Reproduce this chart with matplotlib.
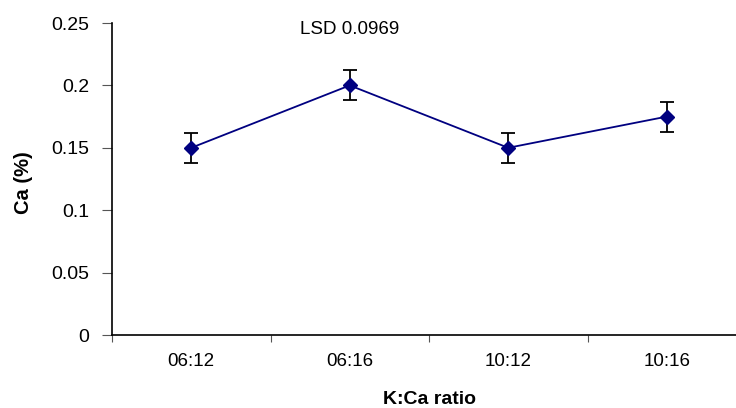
import numpy as np
import matplotlib
matplotlib.use("Agg")
import matplotlib.pyplot as plt

# data
ratios = ["06:12", "06:16", "10:12", "10:16"]
ca_pct = [0.15, 0.20, 0.15, 0.175]
ca_err = [0.012, 0.012, 0.012, 0.012]
lsd_text = "LSD 0.0969"

plt.rcParams['font.family'] = ['Liberation Sans', 'DejaVu Sans']

fig = plt.figure(figsize=(7.36, 4.08), dpi=100)
# axes run slightly past the right edge, as in the reference
ax = fig.add_axes([112 / 736, 1 - 335 / 408, 634 / 736, 312 / 408])

x = np.arange(len(ratios))
ax.errorbar(x, ca_pct, yerr=ca_err, color="#000080", lw=1.3,
            marker="D", ms=7, mfc="#000080", mec="#000080",
            ecolor="black", elinewidth=1.3, capsize=5, capthick=1.3)

ax.set_xlim(-0.5, len(ratios) - 0.5)
ax.set_ylim(0, 0.25)
ax.set_yticks([0, 0.05, 0.1, 0.15, 0.2, 0.25])
ax.set_yticklabels(["0", "0.05", "0.1", "0.15", "0.2", "0.25"], fontsize=14)

# tick marks on category boundaries, labels at the centres
ax.set_xticks(np.arange(-0.5, len(ratios), 1.0))
ax.set_xticklabels([])
ax.set_xticks(x, minor=True)
ax.set_xticklabels(ratios, minor=True, fontsize=13.5)
ax.tick_params(axis="x", which="minor", length=0, pad=13)
ax.tick_params(axis="x", which="major", length=5, direction="out", color="#555555")
ax.tick_params(axis="y", length=7, direction="out", color="#555555", pad=9.5)

for side in ["top", "right"]:
    ax.spines[side].set_visible(False)
for side in ["left", "bottom"]:
    ax.spines[side].set_linewidth(1.2)

ax.set_xlabel("K:Ca ratio", fontsize=14, fontweight="bold")
ax.set_ylabel("Ca (%)", fontsize=14.5, fontweight="bold")
ax.xaxis.set_label_coords(0.5, -0.179)
ax.yaxis.set_label_coords(-0.1246, 0.489)

ax.text(0.686, 0.245, lsd_text, fontsize=13.5, ha="left", va="center")

fig.savefig("out.png", dpi=100)
